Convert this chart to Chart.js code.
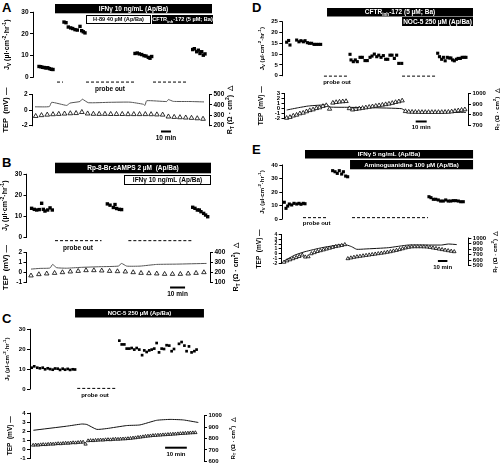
<!DOCTYPE html>
<html><head><meta charset="utf-8">
<script src="https://cdn.jsdelivr.net/npm/chart.js@4.4.1/dist/chart.umd.min.js"></script>
<style>
html,body{margin:0;padding:0;background:#fff;width:502px;height:467px;overflow:hidden;position:relative}
canvas{position:absolute;left:0;top:0}
.lt{position:absolute;font:bold 13px "Liberation Sans",Arial,sans-serif;color:#000;line-height:13px}
</style></head><body>
<div class="lt" style="left:2px;top:1px">A</div>
<div class="lt" style="left:2px;top:156px">B</div>
<div class="lt" style="left:2px;top:312px">C</div>
<div class="lt" style="left:252px;top:1px">D</div>
<div class="lt" style="left:252px;top:143px">E</div>
<script>
// ---------------- DATA (time in minutes) ----------------
// Panel A
const A_jvT = [4,5.8,7.5,9.3,11,12.8,14.5,16.3,18, 29,31,33.3,35.7,37.7,40,42.3,45,46.7,48.3,50, 100,102.3,104.3,106.7,109,111,113.3,115,116.7, 157.7,159.3,161.7,163.3,165,166.7,168.3,170];
const A_jvV = [5.0,4.9,4.6,4.5,4.3,4.4,4.0,3.7,3.6, 25.5,25.2,23.2,22.8,22.5,22.0,21.8,23.5,21.5,21.0,20.5, 11.0,11.2,10.8,10.5,10.0,9.8,9.2,8.8,9.6, 12.8,13.2,11.8,12.5,11.0,11.8,10.2,10.8];
const A_tepT = [0,14.3,16.7,31.7,35,45,47.3,53.3,75,95,108.3,110,111.7,131.7,133.3,138.3,155,169];
const A_tepV = [0.42,0.45,1.0,0.6,0.9,1.1,1.4,0.95,1.0,1.02,0.75,0.6,1.2,1.1,1.35,1.12,1.1,1.05];
const A_rtStart = 0.7, A_rtEvery = 5.77;
const A_rtV = [292,300,305,309,312,315,318,320,330,316,313,312,312,311,311,311,310,310,310,310,309,307,305,287,283,280,277,274,270,265];
const A_probe = [[22,28],[51,100],[118,153]];
const A_jvTicks = [0,10,20,30], A_tepTicks = [-2,0,2], A_rtTicks = [200,300,400,500];

// Panel B
const B_jvT = [0.4,2.2,3.8,5.5,7.1,8.2,9.3,11.1,12.7,14.2, 50.9,52.7,54.9,56,57.1,58.9,60.4, 107.8,109.3,110.9,112.2,113.3,115.1,116.4,117.8];
const B_jvV = [13.8,13.3,13.0,13.2,16.2,13.3,12.5,13.0,14.0,13.0, 15.9,15.3,14.2,15.6,13.7,13.3,13.2, 14.3,13.8,13.0,13.0,12.2,11.4,10.6,9.8];
const B_tepT = [0,6,12.7,14.4,17.1,23.8,32.7,46,58.2,60.4,63.8,72.7,83.8,97.1,117];
const B_tepV = [0.33,0.4,0.44,0.8,0.47,0.42,0.5,0.57,0.63,0.9,0.63,0.63,0.8,0.83,0.9];
const B_rtStart = 0, B_rtEvery = 5.24;
const B_rtV = [167,180,187,193,200,207,213,220,220,217,213,210,207,200,193,190,187,183,183,183,187,193,200];
const B_probe = [[16,47],[64.9,107.1]];
const B_jvTicks = [0,10,20,30], B_tepTicks = [-1,0,1,2], B_rtTicks = [100,200,300,400];

// Panel C
const C_jvT = [0.3,1.5,2.9,4.1,5.4,6.5,7.7,8.8,10.0,11.1,12.3,13.4,14.6,15.7,16.9,18.0,19.2,20.3, 40.7,41.8,43.0,44.1,45.3,46.4,47.6,48.7,49.9,51.2,52.2,53.3,54.5,55.6,56.8,57.9,59.0,60.2,61.3,62.5,63.7,64.8,65.9,68.2,69.4,70.7,71.7,72.8,74.0,75.3,76.3];
const C_jvV = [10.7,11.4,10.7,10.4,10.7,9.9,10.4,10.0,9.7,10.3,10.2,9.6,10.2,9.7,10.1,9.6,9.9,9.8, 24.3,22.4,22.4,20.3,20.3,20.6,19.8,20.6,19.8,17.0,19.4,18.6,19.4,19.8,20.3,23.1,18.4,20.3,20.1,22.0,21.8,19.0,20.1,22.7,23.6,21.8,19.0,21.4,18.4,19.0,19.8];
const C_tepT = [1.1,16.4,23.4,25.7,30.3,34.9,44.1,50.2,57.9,64.1,70.2,77.1];
const C_tepV = [2.11,2.56,2.8,2.75,2.21,2.3,2.63,2.7,3.21,3.31,3.25,2.97];
const C_rtStart = 1, C_rtEvery = 1.15;
const C_rtV = [741,743,742,745,747,746,749,751,750,753,755,754,757,759,758,761,763,762,765,767,768,750,780,782,781,784,785,787,786,789,790,789,792,794,793,795,796,797,799,801,804,806,810,812,815,819,821,823,826,827,829,830,832,833,835,836,838,839,841,843,844,846,847,849,850,851];
const C_probe = [[21.3,39.5]];
const C_jvTicks = [0,10,20,30], C_tepTicks = [-1,0,1,2,3,4], C_rtTicks = [600,700,800,900,1000];

// Panel D
const D_jvT = [0.6,2.4,3.6,9.7,11.8,13.6,15.8,17.3,19.4,21.2,23.3,25.5,27.3,29.4,31.5, 58.2,59.1,61.2,63.0,64.8,67.3,69.4,71.8,73.9,76.4,78.2,80.3,82.5,84.3,86.4,88.5,90.6,92.5,94.5,96.4,98.5,100.6,102.5,105.2, 137.9,139.5,141.5,143.1,144.7,146.6,148.3,149.9,151.4,153.0,154.9,156.5,158.5,160.1,162.0,163.6];
const D_jvV = [15.5,16.3,14.2,16.5,15.7,16.2,15.7,16.2,15.3,15.0,15.0,14.5,14.5,14.5,14.5, 9.9,7.3,6.5,7.3,6.5,8.5,8.5,7.0,7.0,8.5,9.1,10.0,8.8,9.5,8.5,9.3,7.6,7.6,9.5,9.5,8.0,9.5,5.7,5.7, 10.4,8.8,7.6,8.5,6.9,8.5,8.2,8.2,7.3,6.9,7.6,8.0,8.0,8.5,8.5,8.5];
const D_tepT = [0.6,11.2,20.3,32.4,37.9,39.7,56.7,77.9,105.2,109.7,138.5,163.6];
const D_tepV = [-0.37,0.1,0.45,0.65,0.65,0.24,0.18,0.1,-0.1,-0.71,-0.84,-0.84];
const D_rtStart = 0.6, D_rtEvery = 3.0;
const D_rtV = [770,778,791,799,812,818,831,842,849,861,868,881,889,855,912,918,922,925,927,860,848,853,858,863,868,873,878,883,888,893,898,903,910,918,925,933,833,828,827,826,826,825,825,825,825,825,825,825,826,827,830,835,840,845,850];
const D_probe = [[34.5,55.5],[105.5,135.5]];
const D_jvTicks = [0,5,10,15,20,25], D_tepTicks = [-2,-1,0,1,2,3], D_rtTicks = [700,800,900,1000];

// Panel E
const E_jvT = [0.3,2.1,3.9,5.6,8.1,10.5,13.4,15.8,17.9,20.3,22.1, 51.2,53.7,56.1,58.2,60.7,62.5,64.9,67.0, 152.6,154.7,157.2,159.7,162.4,164.9,167.7,170.2,172.9,175.5,178.2,180.7,183.5,186.0,188.7];
const E_jvV = [12.4,7.9,9.6,11.1,10.4,11.6,11.1,11.6,10.9,11.6,11.3, 35.8,35.0,33.8,35.8,33.3,35.0,31.8,31.3, 16.5,15.8,14.6,14.6,14.1,13.3,13.3,14.1,13.3,13.3,13.6,13.6,13.3,12.8,12.8];
const E_tepT = [0,11.6,22.1,39.7,57.2,66,71.2,76.5,85.3,109.8,130.9,151.9,166,173,181.8];
const E_tepV = [-1.5,-0.27,0.42,1.25,1.81,1.81,1.46,0.92,0.98,1.25,1.81,1.81,1.81,2.02,1.9];
const E_rtStart = 0, E_rtEvery = 3.2;
const E_rtV = [560,585,605,625,645,665,690,655,660,715,735,755,770,785,800,815,830,845,855,865,880,625,638,650,660,668,676,684,692,700,708,716,724,732,742,752,764,776,790,805,820,832,840,842,842,842,840,838,830,820,810,800,790,780,770,760,752];
const E_probe = [[20,46.3],[71.6,151.6]];
const E_jvTicks = [0,10,20,30,40], E_tepTicks = [-2,-1,0,1,2,3,4], E_rtTicks = [500,600,700,800,900,1000];

// Treatment bars (start/end in minutes)
const A_treat = [[20,177,'IFNγ 10 ng/mL (Ap/Ba)'],[51,116,'H-89 40 µM (Ap/Ba)'],[117,178,'CFTR_{inh}-172 (5 µM; Ba)']];
const B_treat = [[16,120,'Rp-8-Br-cAMPS 2 µM  (Ap/Ba)'],[62,120,'IFNγ 10 ng/mL (Ap/Ba)']];
const C_treat = [[20.3,79.7,'NOC-5 250 µM (Ap/Ba)']];
const D_treat = [[37.3,170,'CFTR_{inh}-172 (5 µM; Ba)'],[105.5,170,'NOC-5 250 µM (Ap/Ba)']];
const E_treat = [[22.1,199,'IFNγ 5 ng/mL (Ap/Ba)'],[69.5,199,'Aminoguanidine 100 µM (Ap/Ba)']];

// ---------------- RENDERING ----------------
const FONT = '"Liberation Sans Narrow","Liberation Sans",Arial,sans-serif';
const AXW = 18;
const fontStr = (s, b) => (b ? 'bold ' : '') + s + 'px ' + FONT;
function parseRich(str) {
  const parts = []; const re = /(_|\^)\{([^}]*)\}/g; let last = 0, m;
  while ((m = re.exec(str))) {
    if (m.index > last) parts.push([str.slice(last, m.index), '']);
    parts.push([m[2], m[1] === '_' ? 'sub' : 'sup']); last = re.lastIndex;
  }
  if (last < str.length) parts.push([str.slice(last), '']);
  return parts;
}
function drawRich(ctx, str, cx, cy, size, bold) {
  const parts = parseRich(str); let w = 0;
  const ws = parts.map(([t, m]) => { ctx.font = fontStr(m ? size * 0.72 : size, bold); const x = ctx.measureText(t).width; w += x; return x; });
  let x = cx - w / 2; ctx.textBaseline = 'middle'; ctx.textAlign = 'left';
  parts.forEach(([t, m], i) => {
    ctx.font = fontStr(m ? size * 0.72 : size, bold);
    const dy = m === 'sub' ? size * 0.32 : m === 'sup' ? -size * 0.36 : 0;
    ctx.fillText(t, x, cy + dy); x += ws[i];
  });
}
const al = v => Math.round(v - 0.5) + 0.5;
function decoPlugin(d) {
  return { id: 'deco', afterDraw(chart) {
    const ctx = chart.ctx, xs = chart.scales.x; ctx.save();
    ['yL', 'yR'].forEach(id => {
      const s = chart.scales[id]; if (!s) return; const tk = s.ticks; if (!tk.length) return;
      const x = al(s.position === 'left' ? s.right : s.left);
      const y1 = s.getPixelForValue(tk[0].value), y2 = s.getPixelForValue(tk[tk.length - 1].value);
      ctx.strokeStyle = '#000'; ctx.lineWidth = 1; ctx.beginPath();
      ctx.moveTo(x, Math.max(y1, y2) + 0.5); ctx.lineTo(x, Math.min(y1, y2) - 0.5); ctx.stroke();
    });
    ctx.fillStyle = '#000';
    (d.titles || []).forEach(tt => {
      const s = chart.scales[tt.axis]; const tk = s.ticks;
      const sx = s.position === 'left' ? s.right - tt.off : s.left + tt.off;
      const yc = (s.getPixelForValue(tk[0].value) + s.getPixelForValue(tk[tk.length - 1].value)) / 2 + (tt.dy || 0);
      ctx.save(); ctx.translate(sx, yc); ctx.rotate(-Math.PI / 2); ctx.fillStyle = '#000';
      drawRich(ctx, tt.text, 0, 0, tt.size, true); ctx.restore();
    });
    (d.bars || []).forEach(b => {
      const x1 = xs.getPixelForValue(b.t0), x2 = xs.getPixelForValue(b.t1);
      ctx.fillStyle = b.dark ? '#000' : '#fff'; ctx.fillRect(x1, b.y, x2 - x1, b.h);
      if (!b.dark) { ctx.strokeStyle = '#000'; ctx.lineWidth = 1; ctx.strokeRect(al(x1), al(b.y), Math.round(x2 - x1) - 1, Math.round(b.h) - 1); }
      ctx.fillStyle = b.dark ? '#fff' : '#000'; drawRich(ctx, b.text, (x1 + x2) / 2, b.y + b.h / 2 + 0.3, b.size, true);
    });
    ctx.fillStyle = '#000';
    if (d.note) {
      const n = d.note; const x = xs.getPixelForValue(n.t); const y = chart.scales.yL.getPixelForValue(n.v) + n.dy;
      drawRich(ctx, 'probe out', x, y, n.size, true);
    }
    if (d.sbar) {
      const b = d.sbar; const x1 = xs.getPixelForValue(b.t), x2 = xs.getPixelForValue(b.t + 10);
      ctx.fillRect(x1, b.y - 1, x2 - x1, 2);
      drawRich(ctx, '10 min', (x1 + x2) / 2, b.ty, b.size, true);
    }
    ctx.restore();
  }};
}
function yAxis(pos, ticks, ref, area, fsize) {
  const [vA, pA, vB, pB] = ref; const s = (pB - pA) / (vA - vB);
  return { type: 'linear', position: pos, bounds: 'data',
    max: vA + (pA - area.T) / s, min: vB - (area.B - pB) / s,
    afterBuildTicks: sc => { sc.ticks = ticks.map(v => ({ value: v })); },
    afterFit: sc => { sc.width = AXW; sc.paddingTop = 0; sc.paddingBottom = 0; },
    grid: { display: true, drawOnChartArea: false, drawTicks: true, tickLength: 3, color: '#000', lineWidth: 1 },
    border: { display: false },
    ticks: { autoSkip: false, padding: 1.5, color: '#000', font: { family: FONT, size: fsize, weight: 'bold' }, callback: v => String(v) }
  };
}
const pts = (T, V) => T.map((t, i) => ({ x: t, y: V[i] }));
const series = (t0, dt, V) => V.map((v, i) => ({ x: t0 + i * dt, y: v }));
function dashPts(probe, v) { const o = []; probe.forEach(([a, b]) => { o.push({ x: a, y: v }, { x: b, y: v }, { x: b, y: null }); }); return o; }
function mk(area, P, scales, datasets, deco) {
  const cv = document.createElement('canvas'); cv.width = 502; cv.height = 467; document.body.appendChild(cv);
  const hasR = !!scales.yR;
  const xr = { min: (area.L - P.x0) / P.k, max: (area.R - P.x0) / P.k };
  return new Chart(cv, { type: 'line', data: { datasets }, options: {
    responsive: false, animation: false, events: [],
    layout: { padding: { left: area.L - AXW, right: 502 - area.R - (hasR ? AXW : 0), top: area.T, bottom: 467 - area.B } },
    plugins: { legend: { display: false }, tooltip: { enabled: false } },
    scales: Object.assign({ x: { type: 'linear', display: false, bounds: 'data', min: xr.min, max: xr.max } }, scales)
  }, plugins: [decoPlugin(deco)] });
}
const JV = 'J_{V} (µl·cm^{-2}·hr^{-1})', TEP = 'TEP  (mV) —', RT = 'R_{T} (Ω · cm^{2})  △';

function panel(P) {
  const up = P.up, lo = P.lo;
  mk(up, P, { yL: yAxis('left', P.jvTicks, P.jvRef, up, P.fs) }, [
    { data: P.jv, showLine: false, pointStyle: 'rect', pointRadius: P.sq, backgroundColor: '#000', borderColor: '#000', borderWidth: 0, yAxisID: 'yL', clip: false },
    { data: dashPts(P.probe, P.dashV), pointRadius: 0, borderColor: '#000', borderWidth: 1, borderDash: [3, 2], spanGaps: false, yAxisID: 'yL', clip: false }
  ], { titles: [{ axis: 'yL', text: JV, off: P.tJv, size: P.ts }],
       bars: P.treat.map((t, i) => ({ t0: t[0], t1: t[1], text: t[2], y: P.barY[i], h: P.barH[i], dark: P.dark[i], size: P.bs[i] })),
       note: { t: P.noteT, v: P.dashV, dy: P.noteDy, size: P.ns } });
  mk(lo, P, { yL: yAxis('left', P.tepTicks, P.tepRef, lo, P.fsL || P.fs), yR: yAxis('right', P.rtTicks, P.rtRef, lo, P.fs) }, [
    { data: P.rt, showLine: false, pointStyle: 'triangle', pointRadius: P.tri, backgroundColor: '#fff', borderColor: '#000', borderWidth: 0.8, yAxisID: 'yR', clip: false },
    { data: P.tep, pointRadius: 0, borderColor: P.lc, borderWidth: 1, tension: 0.15, yAxisID: 'yL', clip: false }
  ], { titles: [{ axis: 'yL', text: TEP, off: P.tTep, size: P.ts2 }, { axis: 'yR', text: RT, off: P.tRt, size: P.ts }],
       sbar: { t: P.sbT, y: P.sbY, ty: P.sbTY, size: P.ns } });
}

panel({ x0: 35, k: 1.0, up: { L: 33, R: 209, T: 9, B: 88 }, lo: { L: 32, R: 209, T: 92, B: 128 },
  jvRef: [30, 12.3, 0, 77.3], tepRef: [2, 94.5, -2, 125.7], rtRef: [500, 94.5, 200, 125.7],
  jvTicks: A_jvTicks, tepTicks: A_tepTicks, rtTicks: A_rtTicks,
  jv: pts(A_jvT, A_jvV), tep: pts(A_tepT, A_tepV), rt: series(A_rtStart, A_rtEvery, A_rtV), probe: A_probe, dashV: -2.2,
  treat: A_treat, barY: [4, 15, 15], barH: [9.3, 9, 9], dark: [true, false, true], bs: [6.5, 5.6, 5.6],
  noteT: 75, noteDy: 7.5, sbT: 126, sbY: 131.5, sbTY: 138,
  fs: 6.5, ts: 7, ts2: 7.5, ns: 6.5, tJv: 26, tTep: 26, tRt: 21, sq: 2.4, tri: 2.7, lc: '#555' });

panel({ x0: 31, k: 1.5, up: { L: 26.5, R: 210, T: 172, B: 246 }, lo: { L: 26.5, R: 210, T: 250, B: 284 },
  jvRef: [30, 174.3, 0, 237.3], tepRef: [2, 252.5, -1, 282.3], rtRef: [400, 252.5, 100, 282.3],
  jvTicks: B_jvTicks, tepTicks: B_tepTicks, rtTicks: B_rtTicks,
  jv: pts(B_jvT, B_jvV), tep: pts(B_tepT, B_tepV), rt: series(B_rtStart, B_rtEvery, B_rtV), probe: B_probe, dashV: -1.6,
  treat: B_treat, barY: [162.7, 175], barH: [10.6, 10], dark: [true, false], bs: [6.5, 6.5],
  noteT: 31.3, noteDy: 7.6, sbT: 92.7, sbY: 287.5, sbTY: 294.5,
  fs: 6.5, ts: 7, ts2: 7.5, ns: 6.5, tJv: 21.5, tTep: 20.5, tRt: 26, sq: 2.4, tri: 2.6, lc: '#555' });

panel({ x0: 31, k: 2.17, up: { L: 30, R: 204, T: 327, B: 392 }, lo: { L: 30, R: 204, T: 411, B: 466 },
  jvRef: [30, 329.3, 0, 389], tepRef: [4, 413.3, -1, 462], rtRef: [1000, 416, 600, 465],
  jvTicks: C_jvTicks, tepTicks: C_tepTicks, rtTicks: C_rtTicks,
  jv: pts(C_jvT, C_jvV), tep: pts(C_tepT, C_tepV), rt: series(C_rtStart, C_rtEvery, C_rtV), probe: C_probe, dashV: 0.3,
  treat: C_treat, barY: [309], barH: [8.5], dark: [true], bs: [6],
  noteT: 29.5, noteDy: 6.5, sbT: 61.8, sbY: 447.7, sbTY: 454.5,
  fs: 6, ts: 6, ts2: 6.5, ns: 6, tJv: 23, tTep: 20, tRt: 29, sq: 1.9, tri: 1.9, lc: '#111' });

panel({ x0: 286, k: 1.1, up: { L: 282.3, R: 468, T: 19, B: 80 }, lo: { L: 284.5, R: 468, T: 91, B: 127 },
  jvRef: [25, 21.7, 0, 75.7], tepRef: [3, 93.5, -2, 118], rtRef: [1000, 93.5, 700, 125.5],
  jvTicks: D_jvTicks, tepTicks: D_tepTicks, rtTicks: D_rtTicks,
  jv: pts(D_jvT, D_jvV), tep: pts(D_tepT, D_tepV), rt: series(D_rtStart, D_rtEvery, D_rtV), probe: D_probe, dashV: -0.2,
  treat: D_treat, barY: [8, 17], barH: [8.5, 9], dark: [true, true], bs: [6.5, 6.5],
  noteT: 46.4, noteDy: 6, sbT: 117.9, sbY: 121.5, sbTY: 127.5,
  fs: 6, ts: 6, ts2: 6.5, ns: 6, tJv: 20, tTep: 23, tRt: 29, sq: 2.2, tri: 2.5, lc: '#111' });

panel({ x0: 284, k: 0.95, up: { L: 282.3, R: 468.3, T: 163, B: 222 }, lo: { L: 281.7, R: 468.3, T: 233, B: 268 },
  jvRef: [40, 165, 0, 219], tepRef: [4, 234.5, -2, 263.3], rtRef: [1000, 238, 500, 265.5],
  jvTicks: E_jvTicks, tepTicks: E_tepTicks, rtTicks: E_rtTicks,
  jv: pts(E_jvT, E_jvV), tep: pts(E_tepT, E_tepV), rt: series(E_rtStart, E_rtEvery, E_rtV), probe: E_probe, dashV: 1.0,
  treat: E_treat, barY: [150, 160], barH: [8.5, 9.3], dark: [true, true], bs: [6.2, 6.2],
  noteT: 34.4, noteDy: 6, sbT: 162, sbY: 261, sbTY: 267,
  fs: 6, fsL: 5, ts: 6, ts2: 6.5, ns: 6, tJv: 20, tTep: 22, tRt: 27, sq: 2.2, tri: 2.1, lc: '#111' });
</script>
</body></html>
